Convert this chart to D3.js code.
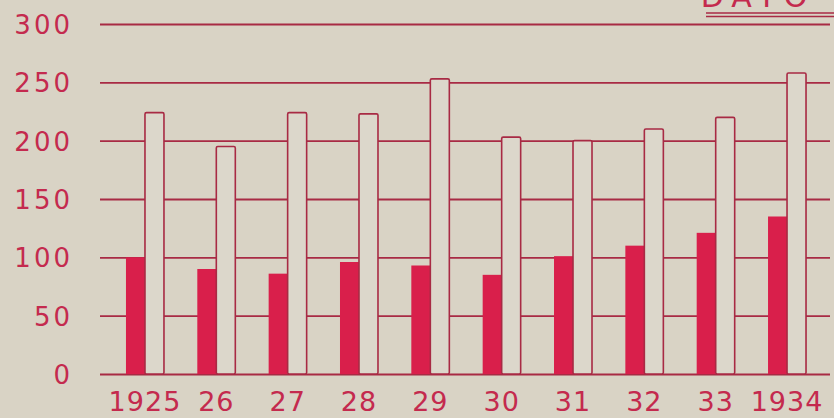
<!DOCTYPE html>
<html>
<head>
<meta charset="utf-8">
<script src="https://cdn.jsdelivr.net/npm/d3@7"></script>
<style>
  html, body { margin: 0; padding: 0; background: #d9d3c5; }
  svg { display: block; }
</style>
</head>
<body>
<div class="chart"></div>
<script>
// years, red series, light series
var years = ["1925", "26", "27", "28", "29", "30", "31", "32", "33", "1934"];
var redValues = [100, 90, 86, 96, 93, 85, 101, 110, 121, 135];
var lightValues = [224, 195, 224, 223, 253, 203, 200, 210, 220, 258];
var yTicks = [0, 50, 100, 150, 200, 250, 300];
var cornerTitle = "DATO";

var W = 834, H = 418;
var lineColor = "#a82a44";
var textColor = "#c42a4e";
var redFill = "#d91f4b";
var bg = "#d9d3c5";

var svg = d3.select(".chart")
            .append("svg")
            .attr("width", W)
            .attr("height", H)
            .style("background", bg);

var y = d3.scaleLinear()
          .domain([0, 300])
          .range([374, 24]);

var x = d3.scaleBand()
          .domain(years)
          .range([109.3, 822.7])
          .padding(0);

var barW = 19;

// grid + y labels
var yAxis = svg.append("g")
               .attr("transform", "translate(100,0)")
               .call(d3.axisLeft(y).tickValues(yTicks).tickSize(-730).tickPadding(27));

yAxis.select(".domain").remove();
yAxis.selectAll(".tick line")
     .attr("stroke", lineColor)
     .attr("stroke-width", 1.8);
yAxis.selectAll(".tick text")
     .attr("fill", textColor)
     .attr("dy", "0.36em")
     .style("font-family", "DejaVu Sans")
     .style("font-size", "26px")
     .style("letter-spacing", "3px");

// red bars
svg.selectAll("rect.red")
   .data(redValues)
 .enter()
   .append("rect")
   .attr("class", "red")
   .attr("x", function(d, i) { return x(years[i]) + x.bandwidth() / 2 - barW; })
   .attr("y", function(d) { return y(d); })
   .attr("width", barW)
   .attr("height", function(d) { return y(0) - y(d); })
   .style("fill", redFill);

// light bars, outlined
svg.selectAll("rect.light")
   .data(lightValues)
 .enter()
   .append("rect")
   .attr("class", "light")
   .attr("x", function(d, i) { return x(years[i]) + x.bandwidth() / 2; })
   .attr("y", function(d) { return y(d); })
   .attr("width", barW)
   .attr("height", function(d) { return y(0) - y(d); })
   .attr("rx", 1.5)
   .style("fill", "#dcd7cb")
   .style("stroke", lineColor)
   .style("stroke-width", 1.6);

// x labels
var xAxis = svg.append("g")
               .attr("transform", "translate(0," + y(0) + ")")
               .call(d3.axisBottom(x).tickSize(0).tickPadding(18));

xAxis.select(".domain").remove();
xAxis.selectAll(".tick text")
     .attr("fill", textColor)
     .attr("dy", "0.71em")
     .style("font-family", "DejaVu Sans")
     .style("font-size", "27px")
     .style("letter-spacing", "1px");

// title cut off at top right, with double underline
svg.append("text")
   .attr("x", 758)
   .attr("y", 7)
   .attr("text-anchor", "middle")
   .attr("fill", textColor)
   .style("font-family", "DejaVu Sans")
   .style("font-size", "30px")
   .style("letter-spacing", "8px")
   .text(cornerTitle);

svg.selectAll("line.under")
   .data([13, 16.5])
 .enter()
   .append("line")
   .attr("class", "under")
   .attr("x1", 706)
   .attr("x2", 834)
   .attr("y1", function(d) { return d; })
   .attr("y2", function(d) { return d; })
   .attr("stroke", lineColor)
   .attr("stroke-width", 1.5);
</script>
</body>
</html>
